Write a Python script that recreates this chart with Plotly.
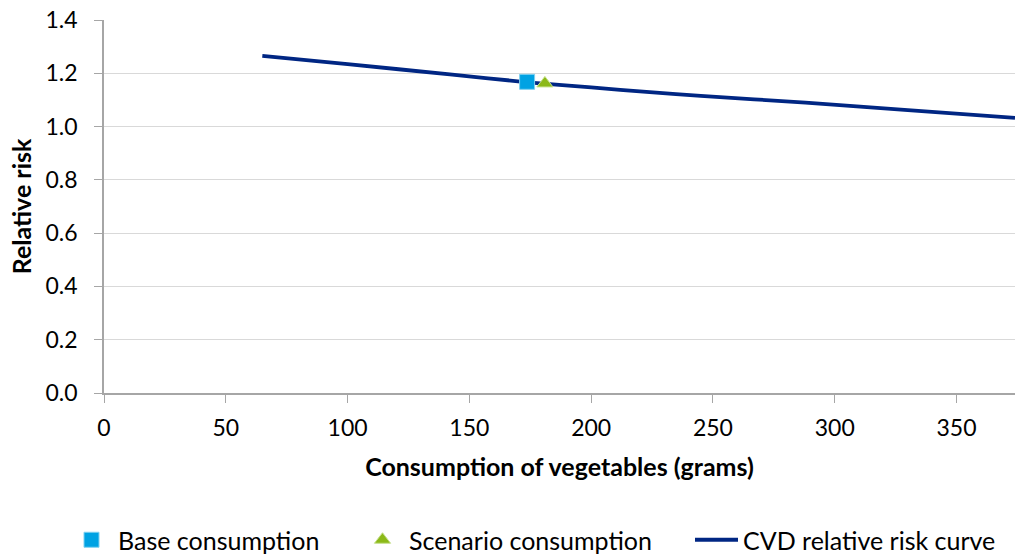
import plotly.graph_objects as go

# CVD relative risk curve against daily vegetable consumption
curve_grams = [65, 100, 142, 174, 200, 224, 245, 288, 330, 374]
curve_rr = [1.265, 1.234, 1.196, 1.166, 1.147, 1.129, 1.115, 1.090, 1.062, 1.033]

base_grams = [173.7]
base_rr = [1.168]
scenario_grams = [181.0]
scenario_rr = [1.162]

x_ticks = [0, 50, 100, 150, 200, 250, 300, 350]
y_ticks = [0.0, 0.2, 0.4, 0.6, 0.8, 1.0, 1.2, 1.4]

FONT = "Lato"
W, H = 1015, 555
TICK_SIZE = 23
TITLE_SIZE = 25
LEGEND_SIZE = 25

fig = go.Figure()

fig.add_trace(go.Scatter(
    x=curve_grams, y=curve_rr, mode="lines", name="CVD relative risk curve",
    line=dict(color="#002683", width=3.8, shape="spline", smoothing=0.6),
    legend="legend3",
))
fig.add_trace(go.Scatter(
    x=base_grams, y=base_rr, mode="markers", name="Base consumption",
    marker=dict(symbol="square", size=15, color="#00A2E3",
                line=dict(color="#7fd0f0", width=1)),
    legend="legend",
))
fig.add_trace(go.Scatter(
    x=scenario_grams, y=scenario_rr, mode="markers", name="Scenario consumption",
    marker=dict(symbol="triangle-up", size=14, color="#8CB919",
                line=dict(color="#c5e08a", width=1)),
    legend="legend2",
))

legend_common = dict(
    orientation="h", xref="container", yref="container",
    yanchor="middle", xanchor="left", itemwidth=43,
    font=dict(family=FONT, size=LEGEND_SIZE, color="#000000"),
    bgcolor="rgba(0,0,0,0)", borderwidth=0,
)

fig.update_layout(
    width=W, height=H,
    margin=dict(l=104, r=0, t=20, b=162),
    paper_bgcolor="white", plot_bgcolor="white",
    font=dict(family=FONT, size=TICK_SIZE, color="#000000"),
    showlegend=True,
    legend=dict(x=65 / W, y=1 - 540 / H, **legend_common),
    legend2=dict(x=356 / W, y=1 - 540 / H, **legend_common),
    legend3=dict(x=690 / W, y=1 - 540 / H, **legend_common),
    xaxis=dict(
        range=[0, 374], tickvals=x_ticks, ticktext=[str(v) for v in x_ticks],
        showgrid=False, zeroline=False,
        showline=True, linecolor="#A6A6A6", linewidth=1.5,
        ticks="outside", ticklen=8, tickcolor="#A6A6A6", tickwidth=1.2,
        ticklabelstandoff=6,
        tickfont=dict(family=FONT, size=TICK_SIZE, color="#000000"),
        title=dict(text="<b>Consumption of vegetables (grams)</b>",
                   font=dict(family=FONT, size=TITLE_SIZE, color="#000000"), standoff=18),
        automargin=False,
    ),
    yaxis=dict(
        range=[0, 1.4], tickvals=y_ticks, ticktext=[f"{v:.1f}" for v in y_ticks],
        showgrid=True, gridcolor="#D9D9D9", gridwidth=1.2, zeroline=False,
        showline=True, linecolor="#A6A6A6", linewidth=1.5,
        ticks="outside", ticklen=8, tickcolor="#A6A6A6", tickwidth=1.2,
        ticklabelstandoff=12,
        tickfont=dict(family=FONT, size=TICK_SIZE, color="#000000"),
        title=dict(text="<b>Relative risk</b>",
                   font=dict(family=FONT, size=TITLE_SIZE, color="#000000"), standoff=7),
        automargin=False,
    ),
)

fig.write_html("out.html")
